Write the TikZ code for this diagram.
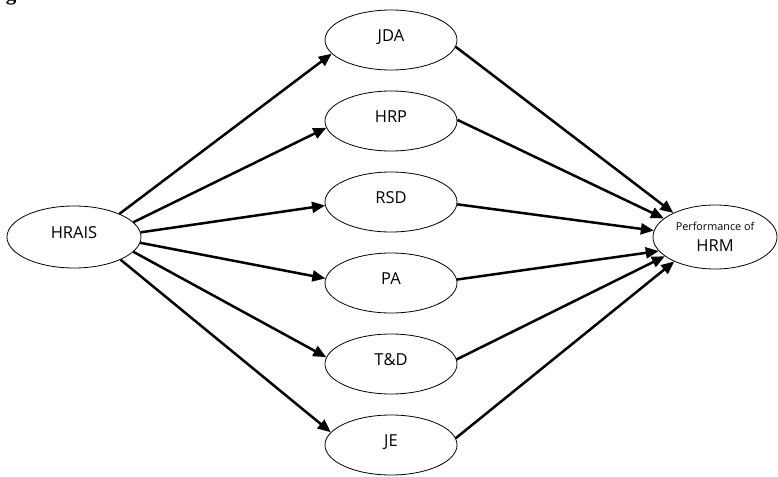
\documentclass[tikz,border=0pt]{standalone}
\usepackage{fontspec}
\setmainfont{Open Sans}
\newfontfamily\capfont{Liberation Serif}
\usetikzlibrary{shapes.geometric,arrows.meta}
\begin{document}
\begin{tikzpicture}[x=1pt,y=-1pt,
  oval/.style={ellipse, draw, line width=0.8pt, inner sep=0pt,
    minimum width=132pt, minimum height=60pt,
    text height=3pt, text depth=0pt,
    font=\fontsize{16.5}{18}\selectfont},
  link/.style={line width=2.5pt, -{Triangle[length=13pt,width=11pt]}}
]
\useasboundingbox (0,0) rectangle (778,476);
\begin{scope}
\clip (0,0) rectangle (778,476);
\node[anchor=base, inner sep=0pt, font=\capfont\bfseries\fontsize{21}{21}\selectfont] (cap) at (11,0.5) {g};
\end{scope}

\node[oval, minimum width=134pt, minimum height=62pt] (hrais) at (74,237) {HRAIS};

\node[oval] (jda) at (391,40) {JDA};
\node[oval] (hrp) at (391,121) {HRP};
\node[oval] (rsd) at (391,202) {RSD};
\node[oval] (pa)  at (391,283) {PA};
\node[oval] (td)  at (391,364) {T\&D};
\node[oval] (je)  at (391,445) {JE};

\node[oval, minimum width=124pt, minimum height=64pt, align=center,
      text height=, text depth=] (perf) at (715,237)
  {{\fontsize{10.8}{12}\selectfont Performance of}\\[3pt]{\fontsize{16.5}{18}\selectfont HRM}};

\draw[link] (hrais.27)  -- (jda.193);
\draw[link] (hrais.14)  -- (hrp.186);
\draw[link] (hrais.4)   -- (rsd.183);
\draw[link] (hrais.355) -- (pa.176);
\draw[link] (hrais.346) -- (td.174);
\draw[link] (hrais.334) -- (je.168);

\draw[link] (jda.354) -- (perf.150);
\draw[link] (hrp.1)   -- (perf.160);
\draw[link] (rsd.358) -- (perf.174);
\draw[link] (pa.3)    -- (perf.194);
\draw[link] (td.4)    -- (perf.201);
\draw[link] (je.6)    -- (perf.211);
\end{tikzpicture}
\end{document}
